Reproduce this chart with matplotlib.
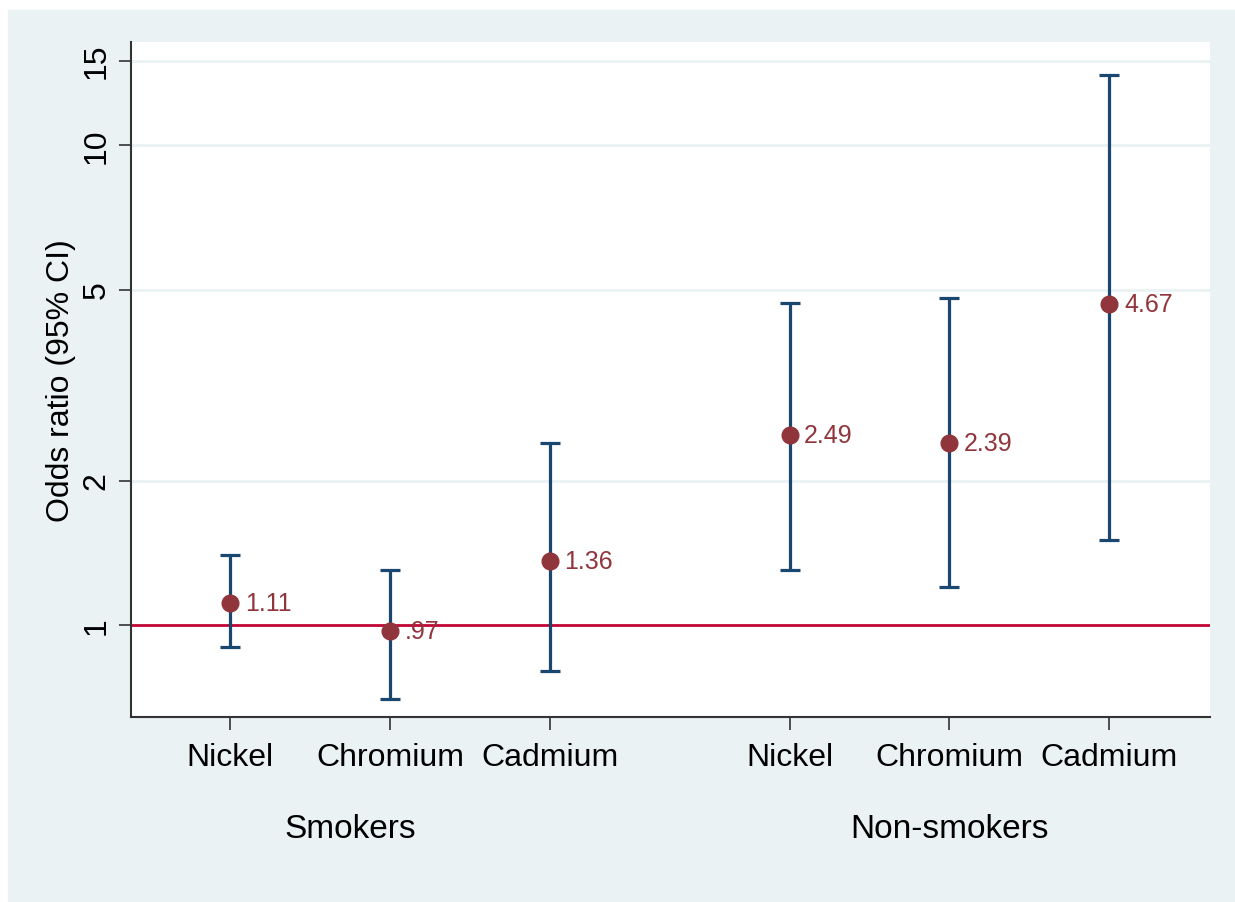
import matplotlib.pyplot as plt
from matplotlib.patches import Rectangle
import numpy as np

plt.rcParams["font.family"] = ["Liberation Sans", "DejaVu Sans"]

metals = ["Nickel", "Chromium", "Cadmium", "Nickel", "Chromium", "Cadmium"]
groups = ["Smokers", "Non-smokers"]
odds = [1.11, 0.97, 1.36, 2.49, 2.39, 4.67]
odds_labels = ["1.11", ".97", "1.36", "2.49", "2.39", "4.67"]
ci_low = [0.90, 0.70, 0.80, 1.30, 1.20, 1.50]
ci_high = [1.40, 1.30, 2.39, 4.69, 4.80, 14.0]
yticks = [1, 2, 5, 10, 15]

navy = "#1A476F"
maroon = "#90353B"
cranberry = "#C10534"
bg = "#EAF2F3"

# three metals per group, wider gap between the groups
xpos = np.array([1, 2, 3, 4.5, 5.5, 6.5])
group_x = [1.75, 5.5]

fig = plt.figure(figsize=(12.35, 9.03), dpi=100)
fig.patches.append(Rectangle((8 / 1235, 0), 1, 1 - 11 / 903,
                             transform=fig.transFigure, color=bg, zorder=-5))
ax = fig.add_axes([131 / 1235, 1 - 718 / 903, 1079 / 1235, 675 / 903])
ax.set_facecolor("white")

ax.set_yscale("log")
ax.set_ylim(0.643, 16.4)
ax.set_xlim(0.38, 7.13)

for t in yticks[1:]:
    ax.axhline(t, color=bg, lw=2, zorder=1)
ax.axhline(1, color=cranberry, lw=2, zorder=2)

odds = np.array(odds)
err = [odds - np.array(ci_low), np.array(ci_high) - odds]
ax.errorbar(xpos, odds, yerr=err, fmt="none", ecolor=navy, elinewidth=2.3,
            capsize=7, capthick=2.3, zorder=3)
ax.plot(xpos, odds, "o", color=maroon, ms=12, zorder=4)
for x, y, s in zip(xpos, odds, odds_labels):
    ax.annotate(s, (x, y), xytext=(10.5, 0), textcoords="offset points",
                va="center", ha="left", color=maroon, fontsize=18)

ax.set_yticks(yticks)
ax.set_yticklabels([str(t) for t in yticks], rotation=90, va="center")
ax.yaxis.set_minor_locator(plt.NullLocator())
ax.set_xticks(xpos)
ax.set_xticklabels(metals)
ax.tick_params(axis="both", labelsize=23, length=9, width=1.2, color="#333333")
ax.tick_params(axis="x", pad=9)
ax.tick_params(axis="y", pad=5)

for g, gx in zip(groups, group_x):
    ax.text(gx, -0.165, g, transform=ax.get_xaxis_transform(),
            ha="center", va="center", fontsize=24)

ax.set_ylabel("Odds ratio (95% CI)", fontsize=23, labelpad=4)
for side in ["top", "right"]:
    ax.spines[side].set_visible(False)
for side in ["left", "bottom"]:
    ax.spines[side].set_linewidth(1.5)
    ax.spines[side].set_color("#333333")

fig.savefig("out.png", dpi=100)
